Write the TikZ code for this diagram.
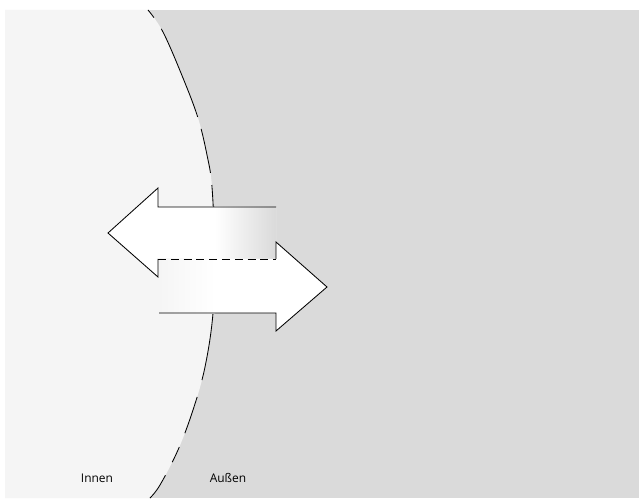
\documentclass[tikz,border=0pt]{standalone}
\usepackage{fontspec}
\setsansfont{Open Sans}
\definecolor{innen}{HTML}{F5F5F5}
\definecolor{aussen}{HTML}{DADADA}
\begin{document}
\begin{tikzpicture}[x=0.025cm,y=-0.025cm,font=\sffamily\fontsize{8.5}{10}\selectfont,line join=miter,
  edge/.style={line width=0.6pt, black},
  border/.style={line width=0.6pt, dash pattern=on 0.243cm off 0.333cm on 2.385cm off 0.31cm on 1.125cm off 0.305cm on 4.905cm off 0.44cm on 0.953cm off 0.373cm on 0.418cm off 0.368cm on 1.2cm off 0.1cm},
  seam/.style={line width=0.6pt, dash pattern=on 0.2cm off 0.12cm},
  label/.style={inner sep=0pt, anchor=base}]
\useasboundingbox (0,0) rectangle (640,499);
\fill[white] (0,0) rectangle (640,499);
\fill[aussen] (5,10) rectangle (639,498);
% inner region, bounded by the dashed curve
\fill[innen] (5,10) -- plot[smooth, tension=0.6] coordinates {(148,10) (163,32) (183,78) (198,118) (207,155) (212,187) (214.5,250) (213,313) (205,367) (193,410) (178,450) (160,485) (150,498)} -- (5,498) -- cycle;
\draw[border] plot[smooth, tension=0.6] coordinates {(148,10) (163,32) (183,78) (198,118) (207,155) (212,187) (214.5,250) (213,313) (205,367) (193,410) (178,450) (160,485) (150,498)};
% arrow pointing in (left) and arrow pointing out (right)
\fill[white] (276,207) -- (158,207) -- (158,188) -- (108,233) -- (158,277) -- (158,259) -- (276,259) -- cycle;
\shade[left color=white, right color=aussen] (215,207) rectangle (276,259);
\fill[white] (159,259) -- (276,259) -- (276,242) -- (327,287) -- (276,331) -- (276,313) -- (159,313) -- cycle;
\shade[left color=innen, right color=white] (159,259) rectangle (215,313);
\draw[edge] (276,207) -- (158,207) -- (158,188) -- (108,233) -- (158,277) -- (158,259);
\draw[seam] (158,259) -- (276,259);
\draw[edge] (276,259) -- (276,242) -- (327,287) -- (276,331) -- (276,313) -- (159,313);
\node[label] (innen) at (97,482) {Innen};
\node[label] (aussen) at (228,482) {Außen};
\end{tikzpicture}
\end{document}
